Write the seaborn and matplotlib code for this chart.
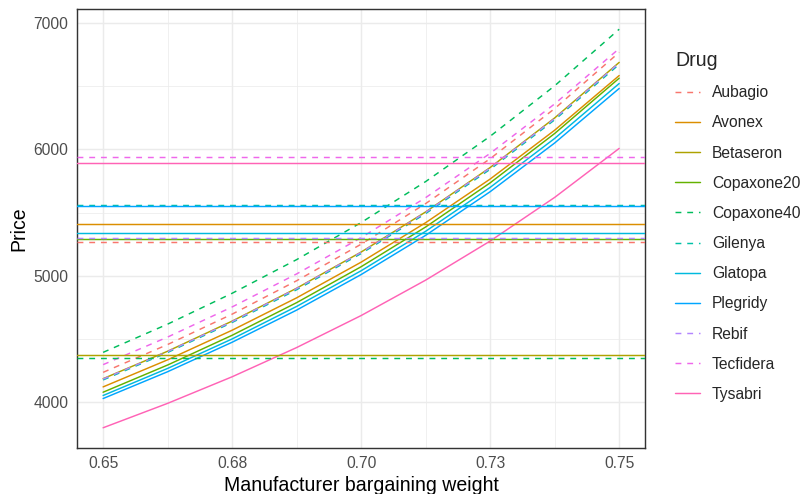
import numpy as np
import pandas as pd
import matplotlib
matplotlib.use("Agg")
import matplotlib.pyplot as plt
from matplotlib.lines import Line2D
from matplotlib.ticker import FixedLocator
import seaborn as sns

# ---- data ----
weights = [0.65, 0.6625, 0.675, 0.6875, 0.70, 0.7125, 0.725, 0.7375, 0.75]
drugs = ["Aubagio", "Avonex", "Betaseron", "Copaxone20", "Copaxone40", "Gilenya",
         "Glatopa", "Plegridy", "Rebif", "Tecfidera", "Tysabri"]

aubagio    = [4238, 4458, 4698, 4962, 5251, 5572, 5927, 6323, 6767]
avonex     = [4123, 4337, 4571, 4827, 5109, 5421, 5766, 6152, 6584]
betaseron  = [4188, 4405, 4643, 4903, 5189, 5506, 5857, 6249, 6688]
copaxone20 = [4081, 4296, 4531, 4789, 5073, 5387, 5736, 6126, 6563]
copaxone40 = [4396, 4619, 4863, 5129, 5422, 5746, 6104, 6503, 6950]
gilenya    = [4178, 4395, 4632, 4891, 5177, 5493, 5843, 6234, 6672]
glatopa    = [4055, 4269, 4502, 4759, 5041, 5353, 5700, 6087, 6521]
plegridy   = [4031, 4243, 4476, 4730, 5011, 5321, 5666, 6051, 6482]
rebif      = [4185, 4402, 4639, 4900, 5186, 5502, 5853, 6244, 6683]
tecfidera  = [4299, 4517, 4755, 5016, 5303, 5619, 5969, 6360, 6797]
tysabri    = [3800, 3993, 4203, 4434, 4687, 4967, 5276, 5621, 6008]

# reference (observed) price levels drawn as horizontal lines
observed_price = [5265, 5409, 4378, 5291, 4352, 5561, 5341, 5553, 5299, 5937, 5892]

dashed_drugs = ["Aubagio", "Copaxone40", "Gilenya", "Rebif", "Tecfidera"]

x_ticks = [0.65, 0.675, 0.70, 0.725, 0.75]
x_tick_labels = ["0.65", "0.68", "0.70", "0.73", "0.75"]
y_ticks = [4000, 5000, 6000, 7000]
y_tick_labels = ["4000", "5000", "6000", "7000"]

# ---- build table ----
series = [aubagio, avonex, betaseron, copaxone20, copaxone40, gilenya,
          glatopa, plegridy, rebif, tecfidera, tysabri]
rows = []
for d, vals in zip(drugs, series):
    for w, v in zip(weights, vals):
        rows.append({"Drug": d, "weight": w, "Price": v})
df = pd.DataFrame(rows)

colors = ["#F8766D", "#DB8E00", "#AEA200", "#64B200", "#00BD5C", "#00C1A7",
          "#00BADE", "#00A6FF", "#B385FF", "#EF67EB", "#FF63B6"]
palette = dict(zip(drugs, colors))
dash_pat = (4, 4)
dashes = {d: (dash_pat if d in dashed_drugs else "") for d in drugs}

sns.set_style("white")
plt.rcParams["font.family"] = ["Liberation Sans", "DejaVu Sans"]

DPI = 96
S = 4 / 3  # text scale
fig = plt.figure(figsize=(804 / DPI, 494 / DPI), dpi=DPI)
ax = fig.add_axes([77.3 / 804, 1 - 447.7 / 494, (645 - 77.3) / 804, (447.7 - 9.3) / 494])

LW = 1.1
sns.lineplot(data=df, x="weight", y="Price", hue="Drug", style="Drug",
             palette=palette, dashes=dashes, linewidth=LW, legend=False,
             hue_order=drugs, style_order=drugs, ax=ax, zorder=3)

for d, p in zip(drugs, observed_price):
    if d in dashed_drugs:
        ax.axhline(p, color=palette[d], linewidth=LW, linestyle=(0, dash_pat), zorder=3)
    else:
        ax.axhline(p, color=palette[d], linewidth=LW, linestyle="-", zorder=3)

ax.set_xlim(0.645, 0.755)
ax.set_ylim(3642.5, 7107.5)

ax.set_xticks(x_ticks)
ax.set_xticklabels(x_tick_labels)
ax.set_yticks(y_ticks)
ax.set_yticklabels(y_tick_labels)
ax.xaxis.set_minor_locator(FixedLocator([0.6625, 0.6875, 0.7125, 0.7375]))
ax.yaxis.set_minor_locator(FixedLocator([4500, 5500, 6500]))

ax.set_axisbelow(True)
ax.grid(which="major", color="#EBEBEB", linewidth=1.07)
ax.grid(which="minor", color="#EBEBEB", linewidth=0.53)
ax.tick_params(which="major", length=2.75 * S, width=1.07, color="#333333",
               labelcolor="#4D4D4D", labelsize=8.8 * S, pad=2.2 * S)
ax.tick_params(which="minor", length=0)
for s in ax.spines.values():
    s.set_color("#333333")
    s.set_linewidth(1.07)

ax.set_xlabel("Manufacturer bargaining weight", fontsize=11 * S, color="black",
              labelpad=2.75 * S)
ax.set_ylabel("Price", fontsize=11 * S, color="black", labelpad=2.75 * S)

handles = []
for d in drugs:
    if d in dashed_drugs:
        h = Line2D([], [], color=palette[d], linewidth=LW, linestyle=(0, dash_pat))
    else:
        h = Line2D([], [], color=palette[d], linewidth=LW, linestyle="-")
    handles.append(h)

leg = fig.legend(handles, drugs, title="Drug", loc="upper left",
                 bbox_to_anchor=(675 / 804, 1 - 51 / 494), frameon=False,
                 fontsize=8.8 * S, title_fontsize=11 * S, borderpad=0, borderaxespad=0,
                 handlelength=1.6, handletextpad=0.77, labelspacing=0.97,
                 alignment="left")

fig.savefig("out.png", dpi=DPI)
